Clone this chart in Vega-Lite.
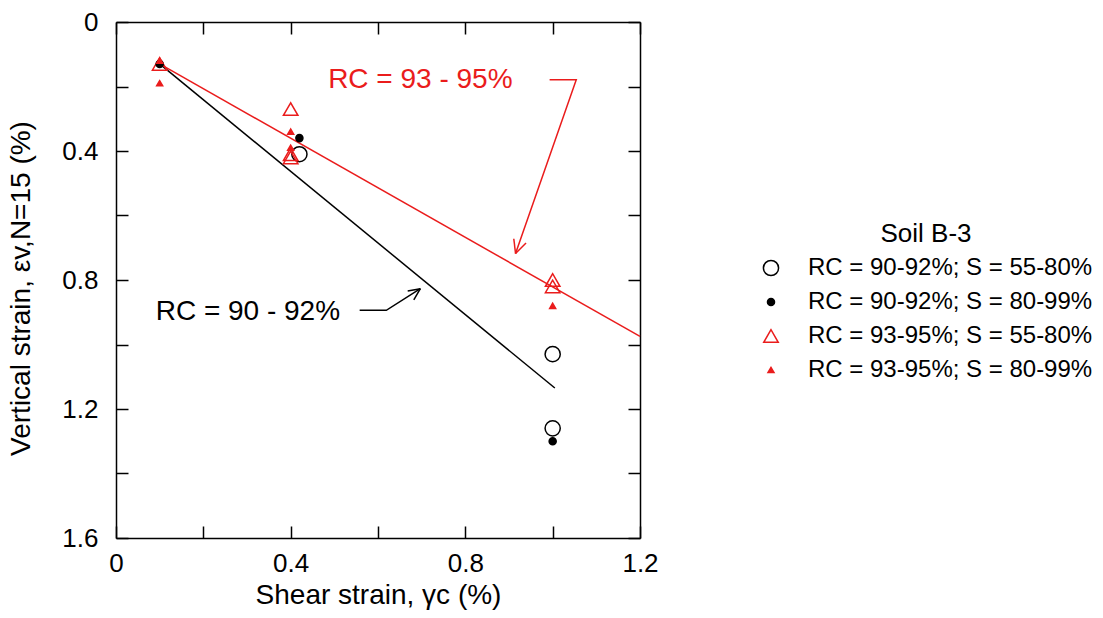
{
  "$schema": "https://vega.github.io/schema/vega-lite/v6.json",
  "width": 524,
  "height": 516,
  "autosize": {"type": "none"},
  "padding": {"left": 116, "top": 22, "right": 463, "bottom": 80},
  "background": "white",
  "config": {
    "font": "Liberation Sans",
    "view": {"stroke": null},
    "axis": {
      "grid": false,
      "domainColor": "black",
      "domainWidth": 1.5,
      "tickColor": "black",
      "tickWidth": 1.5,
      "labelColor": "black",
      "titleColor": "black",
      "labelFontSize": 26,
      "titleFontSize": 28,
      "titleFontWeight": "normal",
      "labelFlush": false,
      "labelOverlap": false
    }
  },
  "datasets": {
    "points": [
      {"gamma": 0.42, "strain": 0.41, "series": "RC = 90-92%; S = 55-80%"},
      {"gamma": 1.0, "strain": 1.03, "series": "RC = 90-92%; S = 55-80%"},
      {"gamma": 1.0, "strain": 1.26, "series": "RC = 90-92%; S = 55-80%"},
      {"gamma": 0.1, "strain": 0.13, "series": "RC = 93-95%; S = 55-80%"},
      {"gamma": 0.4, "strain": 0.27, "series": "RC = 93-95%; S = 55-80%"},
      {"gamma": 0.4, "strain": 0.41, "series": "RC = 93-95%; S = 55-80%"},
      {"gamma": 0.4, "strain": 0.42, "series": "RC = 93-95%; S = 55-80%"},
      {"gamma": 1.0, "strain": 0.8, "series": "RC = 93-95%; S = 55-80%"},
      {"gamma": 1.0, "strain": 0.82, "series": "RC = 93-95%; S = 55-80%"},
      {"gamma": 0.1, "strain": 0.13, "series": "RC = 90-92%; S = 80-99%"},
      {"gamma": 0.42, "strain": 0.36, "series": "RC = 90-92%; S = 80-99%"},
      {"gamma": 1.0, "strain": 1.3, "series": "RC = 90-92%; S = 80-99%"},
      {"gamma": 0.1, "strain": 0.12, "series": "RC = 93-95%; S = 80-99%"},
      {"gamma": 0.1, "strain": 0.19, "series": "RC = 93-95%; S = 80-99%"},
      {"gamma": 0.4, "strain": 0.34, "series": "RC = 93-95%; S = 80-99%"},
      {"gamma": 0.4, "strain": 0.39, "series": "RC = 93-95%; S = 80-99%"},
      {"gamma": 1.0, "strain": 0.88, "series": "RC = 93-95%; S = 80-99%"}
    ],
    "fits": [
      {"gamma": 0.1, "strain": 0.13, "rc": "90-92"},
      {"gamma": 1.005, "strain": 1.135, "rc": "90-92"},
      {"gamma": 0.1, "strain": 0.13, "rc": "93-95"},
      {"gamma": 1.2, "strain": 0.975, "rc": "93-95"}
    ],
    "arrows": [
      {"gamma": 0.993, "strain": 0.179, "rc": "93-95", "seg": "shaft", "ord": 1},
      {"gamma": 1.054, "strain": 0.179, "rc": "93-95", "seg": "shaft", "ord": 2},
      {"gamma": 0.915, "strain": 0.718, "rc": "93-95", "seg": "shaft", "ord": 3},
      {"gamma": 0.939, "strain": 0.685, "rc": "93-95", "seg": "barb1", "ord": 1},
      {"gamma": 0.915, "strain": 0.718, "rc": "93-95", "seg": "barb1", "ord": 2},
      {"gamma": 0.911, "strain": 0.672, "rc": "93-95", "seg": "barb2", "ord": 1},
      {"gamma": 0.915, "strain": 0.718, "rc": "93-95", "seg": "barb2", "ord": 2},
      {"gamma": 0.558, "strain": 0.894, "rc": "90-92", "seg": "shaft", "ord": 1},
      {"gamma": 0.619, "strain": 0.894, "rc": "90-92", "seg": "shaft", "ord": 2},
      {"gamma": 0.697, "strain": 0.827, "rc": "90-92", "seg": "shaft", "ord": 3},
      {"gamma": 0.682, "strain": 0.862, "rc": "90-92", "seg": "barb1", "ord": 1},
      {"gamma": 0.697, "strain": 0.827, "rc": "90-92", "seg": "barb1", "ord": 2},
      {"gamma": 0.668, "strain": 0.834, "rc": "90-92", "seg": "barb2", "ord": 1},
      {"gamma": 0.697, "strain": 0.827, "rc": "90-92", "seg": "barb2", "ord": 2}
    ],
    "labels": [
      {"gamma": 0.697, "strain": 0.179, "rc": "93-95", "text": "RC = 93 - 95%"},
      {"gamma": 0.302, "strain": 0.899, "rc": "90-92", "text": "RC = 90 - 92%"}
    ]
  },
  "layer": [
    {
      "data": {"name": "fits"},
      "transform": [{"filter": "datum.rc === '90-92'"}],
      "mark": {"type": "line", "color": "black", "strokeWidth": 1.5},
      "encoding": {
        "x": {"field": "gamma", "type": "quantitative", "scale": {"domain": [0, 1.2], "nice": false, "zero": false},
          "axis": {"orient": "top", "values": [0, 0.2, 0.4, 0.6, 0.8, 1.0, 1.2], "labels": false, "tickSize": -12, "title": null}},
        "y": {"field": "strain", "type": "quantitative", "scale": {"domain": [0, 1.6], "nice": false, "zero": false, "reverse": true},
          "axis": {"orient": "right", "values": [0, 0.2, 0.4, 0.6, 0.8, 1.0, 1.2, 1.4, 1.6], "labels": false, "tickSize": -12, "title": null}}
      }
    },
    {
      "data": {"name": "fits"},
      "transform": [{"filter": "datum.rc === '93-95'"}],
      "mark": {"type": "line", "color": "#ea1c1c", "strokeWidth": 1.5},
      "encoding": {
        "x": {"field": "gamma", "type": "quantitative", "axis": null},
        "y": {"field": "strain", "type": "quantitative", "axis": null}
      }
    },
    {
      "data": {"name": "arrows"},
      "transform": [{"filter": "datum.rc === '93-95'"}],
      "mark": {"type": "line", "color": "#ea1c1c", "strokeWidth": 1.5},
      "encoding": {
        "x": {"field": "gamma", "type": "quantitative", "axis": null},
        "y": {"field": "strain", "type": "quantitative", "axis": null},
        "detail": {"field": "seg", "type": "nominal"},
        "order": {"field": "ord", "type": "quantitative"}
      }
    },
    {
      "data": {"name": "arrows"},
      "transform": [{"filter": "datum.rc === '90-92'"}],
      "mark": {"type": "line", "color": "black", "strokeWidth": 1.5},
      "encoding": {
        "x": {"field": "gamma", "type": "quantitative", "axis": null},
        "y": {"field": "strain", "type": "quantitative", "axis": null},
        "detail": {"field": "seg", "type": "nominal"},
        "order": {"field": "ord", "type": "quantitative"}
      }
    },
    {
      "data": {"name": "labels"},
      "transform": [{"filter": "datum.rc === '93-95'"}],
      "mark": {"type": "text", "color": "#ea1c1c", "fontSize": 28, "align": "center", "baseline": "middle"},
      "encoding": {
        "x": {"field": "gamma", "type": "quantitative", "axis": null},
        "y": {"field": "strain", "type": "quantitative", "axis": null},
        "text": {"field": "text"}
      }
    },
    {
      "data": {"name": "labels"},
      "transform": [{"filter": "datum.rc === '90-92'"}],
      "mark": {"type": "text", "color": "black", "fontSize": 28, "align": "center", "baseline": "middle"},
      "encoding": {
        "x": {"field": "gamma", "type": "quantitative", "axis": null},
        "y": {"field": "strain", "type": "quantitative", "axis": null},
        "text": {"field": "text"}
      }
    },
    {
      "data": {"name": "points"},
      "mark": {"type": "point", "strokeWidth": 1.5, "opacity": 1},
      "encoding": {
        "x": {"field": "gamma", "type": "quantitative",
          "axis": {"orient": "bottom", "values": [0, 0.2, 0.4, 0.6, 0.8, 1.0, 1.2], "format": "~g",
            "labelExpr": "round(datum.value * 10) % 4 == 0 ? datum.label : ''",
            "tickSize": -12, "labelPadding": 24, "title": "Shear strain, γc (%)",
            "titleY": 65, "titleBaseline": "alphabetic"}},
        "y": {"field": "strain", "type": "quantitative",
          "axis": {"orient": "left", "values": [0, 0.2, 0.4, 0.6, 0.8, 1.0, 1.2, 1.4, 1.6], "format": "~g",
            "labelExpr": "round(datum.value * 10) % 4 == 0 ? datum.label : ''",
            "tickSize": -12, "labelPadding": 30, "title": "Vertical strain, εv,N=15 (%)",
            "titleX": -87, "titleY": 266, "titleAngle": -90, "titleBaseline": "alphabetic"}},
        "shape": {"field": "series", "type": "nominal",
          "scale": {"domain": ["RC = 90-92%; S = 55-80%", "RC = 90-92%; S = 80-99%", "RC = 93-95%; S = 55-80%", "RC = 93-95%; S = 80-99%"],
            "range": ["circle", "circle", "triangle-up", "triangle-up"]},
          "legend": {"title": "Soil B-3", "orient": "none", "legendX": 643, "legendY": 199,
            "titleFontSize": 26, "titleFontWeight": "normal", "titleColor": "black", "titleAnchor": "middle", "titlePadding": 9,
            "labelFontSize": 24, "labelColor": "black", "labelOffset": 25, "labelLimit": 500, "rowPadding": 10,
            "symbolStrokeWidth": 1.5}},
        "stroke": {"field": "series", "type": "nominal",
          "scale": {"domain": ["RC = 90-92%; S = 55-80%", "RC = 90-92%; S = 80-99%", "RC = 93-95%; S = 55-80%", "RC = 93-95%; S = 80-99%"],
            "range": ["black", "black", "#ea1c1c", "#ea1c1c"]}},
        "fill": {"field": "series", "type": "nominal",
          "scale": {"domain": ["RC = 90-92%; S = 55-80%", "RC = 90-92%; S = 80-99%", "RC = 93-95%; S = 55-80%", "RC = 93-95%; S = 80-99%"],
            "range": ["transparent", "black", "transparent", "#ea1c1c"]}},
        "size": {"field": "series", "type": "nominal",
          "scale": {"type": "ordinal", "domain": ["RC = 90-92%; S = 55-80%", "RC = 90-92%; S = 80-99%", "RC = 93-95%; S = 55-80%", "RC = 93-95%; S = 80-99%"],
            "range": [230, 50, 210, 36]}}
      }
    }
  ]
}
